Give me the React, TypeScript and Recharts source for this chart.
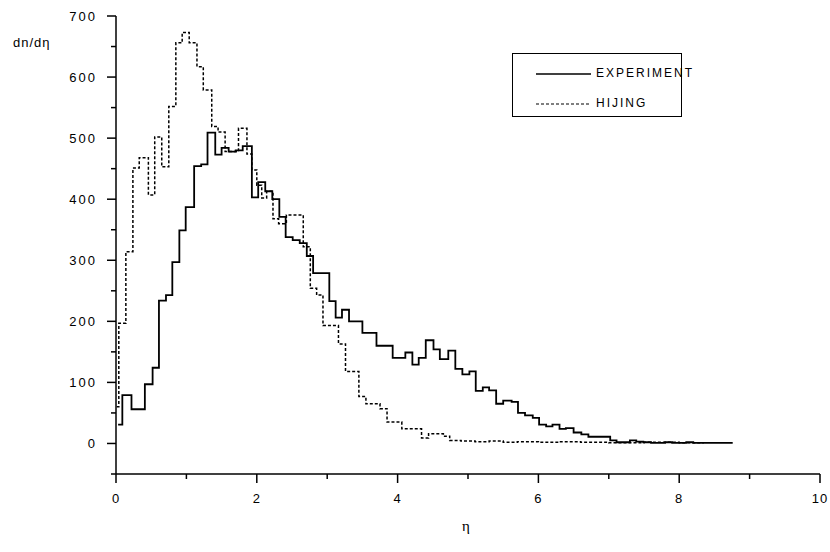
import React from 'react';
import { LineChart, Line, XAxis, YAxis } from 'recharts';

// left bin edges (eta) and counts
const expEta = [
  0.03, 0.09, 0.22, 0.41, 0.52, 0.61, 0.71, 0.8, 0.9, 0.99,
  1.11, 1.21, 1.3, 1.41, 1.5, 1.6, 1.7, 1.8, 1.93, 2.02,
  2.12, 2.22, 2.32, 2.41, 2.51, 2.61, 2.71, 2.8, 3.03, 3.12,
  3.21, 3.31, 3.5, 3.7, 3.93, 4.11, 4.21, 4.3, 4.4, 4.51,
  4.6, 4.72, 4.82, 4.92, 5.02, 5.11, 5.21, 5.3, 5.4, 5.5,
  5.62, 5.71, 5.81, 5.92, 6.01, 6.11, 6.2, 6.3, 6.39, 6.5,
  6.61, 6.71, 7.02, 7.11, 7.3, 7.39, 7.49, 7.6, 7.8, 7.9,
  8.1, 8.2, 8.76,
];
const expCounts = [
  31, 79, 56, 97, 124, 234, 243, 297, 349, 387,
  454, 457, 509, 473, 484, 478, 480, 487, 403, 428,
  413, 400, 371, 338, 333, 328, 307, 279, 233, 206,
  219, 200, 181, 160, 140, 149, 129, 140, 169, 154,
  138, 152, 122, 113, 118, 86, 92, 87, 65, 70,
  68, 50, 46, 42, 31, 28, 31, 24, 25, 18,
  15, 11, 5, 2, 5, 3, 2, 1, 2, 1,
  2, 1, 1,
];

const hijingEta = [
  0.01, 0.04, 0.14, 0.24, 0.33, 0.46, 0.55, 0.65, 0.75, 0.85,
  0.94, 1.04, 1.15, 1.24, 1.36, 1.45, 1.55, 1.74, 1.86, 1.93,
  2.0, 2.07, 2.14, 2.23, 2.31, 2.42, 2.66, 2.76, 2.85, 2.94,
  3.16, 3.26, 3.45, 3.55, 3.75, 3.85, 4.06, 4.34, 4.44, 4.65,
  4.74, 4.9, 5.1, 5.3, 5.5, 5.7, 6.0, 6.3, 6.6, 7.0,
  7.5, 8.0, 8.35,
];
const hijingCounts = [
  60, 197, 314, 451, 468, 407, 502, 453, 552, 656,
  673, 656, 617, 579, 519, 510, 478, 516, 474, 448,
  423, 402, 413, 368, 360, 374, 322, 254, 243, 193,
  163, 118, 77, 65, 57, 35, 24, 9, 16, 12,
  5, 4, 3, 4, 2, 3, 2, 3, 2, 1,
  2, 1, 1,
];

const xTicks = [0, 1, 2, 3, 4, 5, 6, 7, 8, 9, 10];
const yTicks = [-50, 0, 50, 100, 150, 200, 250, 300, 350, 400, 450, 500, 550, 600, 650, 700];

const expData = expEta.map((eta, i) => ({ eta, n: expCounts[i] }));
const hijingData = hijingEta.map((eta, i) => ({ eta, n: hijingCounts[i] }));

const font = '"Liberation Sans", Arial, sans-serif';

const XTick = (props: any) => {
  const { x, y, payload } = props;
  const major = payload.value % 2 === 0;
  return (
    <g>
      <line x1={x} y1={y} x2={x} y2={y + (major ? 9 : 5)} stroke="#000" strokeWidth={1.5} />
      {major && (
        <text x={x} y={y + 29} textAnchor="middle" fontFamily={font} fontSize={13} letterSpacing={1} fill="#000">
          {payload.value}
        </text>
      )}
    </g>
  );
};

const YTick = (props: any) => {
  const { x, y, payload } = props;
  const major = payload.value % 100 === 0;
  return (
    <g>
      <line x1={x} y1={y} x2={x - (major ? 9 : 5)} y2={y} stroke="#000" strokeWidth={1.5} />
      {major && (
        <text x={x - 19} y={y + 4.5} textAnchor="end" fontFamily={font} fontSize={13} letterSpacing={2} fill="#000">
          {payload.value}
        </text>
      )}
    </g>
  );
};

export default function App() {
  return (
    <div style={{ position: 'absolute', left: 0, top: 0, width: 830, height: 552, background: '#fff' }}>
      <LineChart width={830} height={552} margin={{ top: 16, right: 10, left: 60, bottom: 38 }}>
        <XAxis
          dataKey="eta"
          type="number"
          domain={[0, 10]}
          ticks={xTicks}
          allowDataOverflow
          height={40}
          tickSize={0}
          tickMargin={0}
          tickLine={false}
          tick={<XTick />}
          axisLine={{ stroke: '#000', strokeWidth: 1.5 }}
          interval={0}
        />
        <YAxis
          type="number"
          domain={[-50, 700]}
          ticks={yTicks}
          allowDataOverflow
          width={56}
          tickSize={0}
          tickMargin={0}
          tickLine={false}
          tick={<YTick />}
          axisLine={{ stroke: '#000', strokeWidth: 1.5 }}
          interval={0}
        />
        <Line
          data={hijingData}
          dataKey="n"
          type="stepAfter"
          stroke="#000"
          strokeWidth={1.5}
          strokeDasharray="3 2"
          dot={false}
          isAnimationActive={false}
        />
        <Line
          data={expData}
          dataKey="n"
          type="stepAfter"
          stroke="#000"
          strokeWidth={1.8}
          dot={false}
          isAnimationActive={false}
        />
      </LineChart>

      <div style={{ position: 'absolute', left: 13, top: 35, fontFamily: font, fontSize: 13, letterSpacing: 1 }}>
        dn/dη
      </div>
      <div style={{ position: 'absolute', left: 462, top: 518, fontFamily: 'serif', fontSize: 15 }}>η</div>

      <div
        style={{
          position: 'absolute',
          left: 512,
          top: 53,
          width: 170,
          height: 64,
          border: '1.5px solid #000',
          boxSizing: 'border-box',
          fontFamily: font,
          fontSize: 12,
          letterSpacing: 2,
        }}
      >
        <svg width={60} height={64} style={{ position: 'absolute', left: 20, top: 0 }}>
          <line x1={3} y1={20} x2={58} y2={20} stroke="#000" strokeWidth={1.5} />
          <line x1={3} y1={50} x2={58} y2={50} stroke="#000" strokeWidth={1.2} strokeDasharray="3 2" />
        </svg>
        <div style={{ position: 'absolute', left: 83, top: 12 }}>EXPERIMENT</div>
        <div style={{ position: 'absolute', left: 83, top: 42 }}>HIJING</div>
      </div>
    </div>
  );
}
